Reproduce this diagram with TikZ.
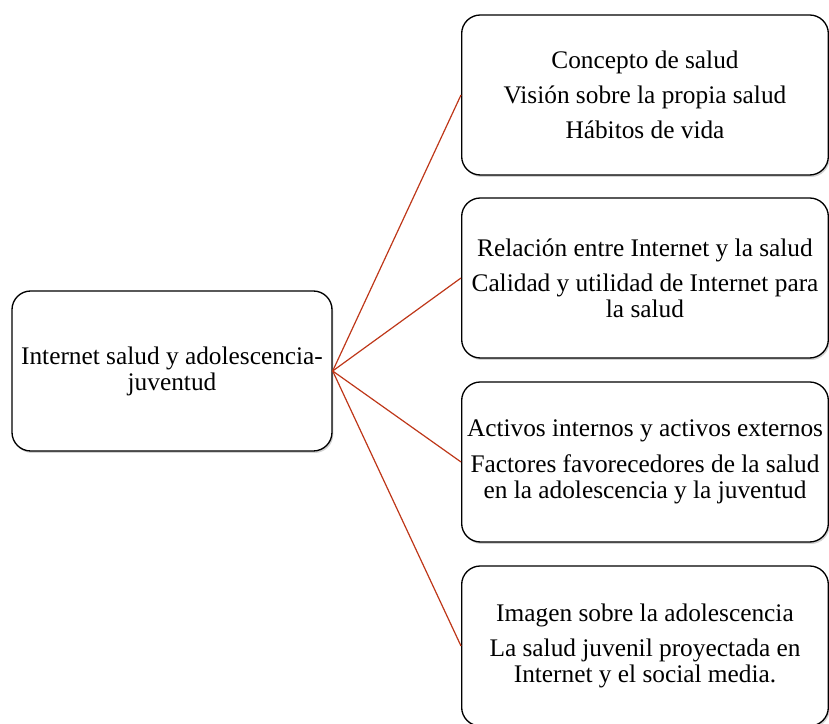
\documentclass[tikz,border=0pt]{standalone}
\usepackage{fontspec}
\setmainfont{Liberation Serif}
\usetikzlibrary{shadows}
\begin{document}
\begin{tikzpicture}[
    x=0.75pt, y=0.75pt,
    box/.style={draw, line width=1pt, rectangle, rounded corners=14pt, fill=white, align=center,
      minimum height=120pt, inner sep=2pt, font=\fontsize{19}{19.5}\selectfont,
      drop shadow={opacity=0.35, shadow xshift=1pt, shadow yshift=-1.5pt}},
    topic/.style={box, minimum width=240pt},
    item/.style={box, minimum width=275pt},
    link/.style={draw={rgb,255:red,190;green,55;blue,25}, line width=0.9pt}
]
  \useasboundingbox (0,0) rectangle (829,724);

  \node[topic] (main) at (172,353) {Internet salud y adolescencia-\\juventud};

  \node[item] (salud) at (645,629) {Concepto de salud\\[7pt]Visión sobre la propia salud\\[7pt]Hábitos de vida};
  \node[item] (internet) at (645,446) {Relación entre Internet y la salud\\[7pt]Calidad y utilidad de Internet para\\la salud};
  \node[item] (activos) at (645,262) {Activos internos y activos externos\\[7pt]Factores favorecedores de la salud\\en la adolescencia y la juventud};
  \node[item] (imagen) at (645,78) {Imagen sobre la adolescencia\\[7pt]La salud juvenil proyectada en\\Internet y el social media.};

  \draw[link] (main.east) -- (salud.west);
  \draw[link] (main.east) -- (internet.west);
  \draw[link] (main.east) -- (activos.west);
  \draw[link] (main.east) -- (imagen.west);
\end{tikzpicture}
\end{document}
